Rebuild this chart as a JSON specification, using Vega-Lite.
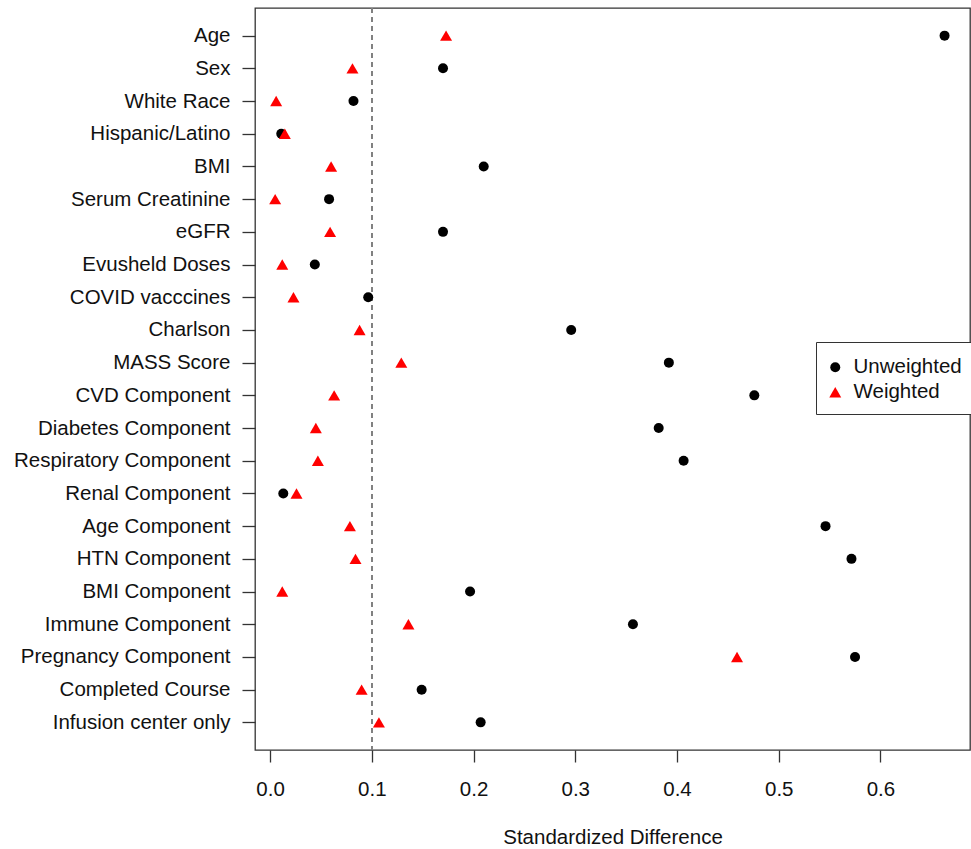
{
  "$schema": "https://vega.github.io/schema/vega-lite/v6.json",
  "width": 715,
  "height": 742,
  "autosize": {"type": "none"},
  "padding": {"left": 255, "top": 8, "right": 1, "bottom": 99},
  "background": "white",
  "config": {
    "view": {"stroke": "#333333", "strokeWidth": 1.3},
    "font": "Liberation Sans",
    "axis": {"grid": false, "domain": false, "tickColor": "#333333", "tickWidth": 1.3, "labelFont": "Liberation Sans", "titleFont": "Liberation Sans", "labelColor": "#111111", "titleColor": "#111111"}
  },
  "data": {
    "values": [
      {"variable": "Age", "type": "Unweighted", "value": 0.663},
      {"variable": "Sex", "type": "Unweighted", "value": 0.170},
      {"variable": "White Race", "type": "Unweighted", "value": 0.082},
      {"variable": "Hispanic/Latino", "type": "Unweighted", "value": 0.011},
      {"variable": "BMI", "type": "Unweighted", "value": 0.210},
      {"variable": "Serum Creatinine", "type": "Unweighted", "value": 0.058},
      {"variable": "eGFR", "type": "Unweighted", "value": 0.170},
      {"variable": "Evusheld Doses", "type": "Unweighted", "value": 0.044},
      {"variable": "COVID vacccines", "type": "Unweighted", "value": 0.0965},
      {"variable": "Charlson", "type": "Unweighted", "value": 0.296},
      {"variable": "MASS Score", "type": "Unweighted", "value": 0.392},
      {"variable": "CVD Component", "type": "Unweighted", "value": 0.476},
      {"variable": "Diabetes Component", "type": "Unweighted", "value": 0.382},
      {"variable": "Respiratory Component", "type": "Unweighted", "value": 0.4065},
      {"variable": "Renal Component", "type": "Unweighted", "value": 0.013},
      {"variable": "Age Component", "type": "Unweighted", "value": 0.546},
      {"variable": "HTN Component", "type": "Unweighted", "value": 0.5715},
      {"variable": "BMI Component", "type": "Unweighted", "value": 0.1966},
      {"variable": "Immune Component", "type": "Unweighted", "value": 0.3567},
      {"variable": "Pregnancy Component", "type": "Unweighted", "value": 0.575},
      {"variable": "Completed Course", "type": "Unweighted", "value": 0.149},
      {"variable": "Infusion center only", "type": "Unweighted", "value": 0.207},
      {"variable": "Age", "type": "Weighted", "value": 0.173},
      {"variable": "Sex", "type": "Weighted", "value": 0.081},
      {"variable": "White Race", "type": "Weighted", "value": 0.006},
      {"variable": "Hispanic/Latino", "type": "Weighted", "value": 0.0145},
      {"variable": "BMI", "type": "Weighted", "value": 0.060},
      {"variable": "Serum Creatinine", "type": "Weighted", "value": 0.005},
      {"variable": "eGFR", "type": "Weighted", "value": 0.059},
      {"variable": "Evusheld Doses", "type": "Weighted", "value": 0.012},
      {"variable": "COVID vacccines", "type": "Weighted", "value": 0.023},
      {"variable": "Charlson", "type": "Weighted", "value": 0.088},
      {"variable": "MASS Score", "type": "Weighted", "value": 0.129},
      {"variable": "CVD Component", "type": "Weighted", "value": 0.063},
      {"variable": "Diabetes Component", "type": "Weighted", "value": 0.045},
      {"variable": "Respiratory Component", "type": "Weighted", "value": 0.047},
      {"variable": "Renal Component", "type": "Weighted", "value": 0.026},
      {"variable": "Age Component", "type": "Weighted", "value": 0.0785},
      {"variable": "HTN Component", "type": "Weighted", "value": 0.084},
      {"variable": "BMI Component", "type": "Weighted", "value": 0.012},
      {"variable": "Immune Component", "type": "Weighted", "value": 0.136},
      {"variable": "Pregnancy Component", "type": "Weighted", "value": 0.459},
      {"variable": "Completed Course", "type": "Weighted", "value": 0.090},
      {"variable": "Infusion center only", "type": "Weighted", "value": 0.107}
    ]
  },
  "layer": [
    {
      "mark": {"type": "rule", "color": "#808080", "strokeDash": [5, 4], "strokeWidth": 1.3},
      "encoding": {"x": {"datum": 0.1, "type": "quantitative"}}
    },
    {
      "mark": {"type": "point", "filled": true, "opacity": 1, "strokeWidth": 0},
      "encoding": {
        "x": {
          "field": "value", "type": "quantitative",
          "scale": {"domain": [-0.0148, 0.688], "nice": false, "zero": false},
          "axis": {
            "values": [0, 0.1, 0.2, 0.3, 0.4, 0.5, 0.6], "format": ".1f",
            "tickSize": 12, "labelPadding": 17, "labelFontSize": 20.5,
            "title": "Standardized Difference", "titleFontSize": 20.5, "titleFontWeight": "normal",
            "titleBaseline": "alphabetic", "titleY": 93
          }
        },
        "y": {
          "field": "variable", "type": "nominal", "sort": null,
          "scale": {"type": "point", "padding": 0.845},
          "axis": {"title": null, "tickSize": 13, "labelPadding": 12, "labelFontSize": 20.5, "labelLimit": 400}
        },
        "color": {
          "field": "type", "type": "nominal",
          "scale": {"domain": ["Unweighted", "Weighted"], "range": ["#000000", "#ff0000"]},
          "legend": {
            "title": " ", "titleFontSize": 1, "titlePadding": 3,
            "orient": "none", "legendX": 561, "legendY": 334,
            "strokeColor": "#333333", "padding": 9, "fillColor": "white",
            "labelFontSize": 20.5, "labelOffset": 8, "rowPadding": 0, "clipHeight": 24.5, "labelColor": "#111111",
            "encode": {"legend": {"update": {"strokeWidth": {"value": 1.3}}}}
          }
        },
        "shape": {
          "field": "type", "type": "nominal",
          "scale": {"domain": ["Unweighted", "Weighted"], "range": ["circle", "triangle-up"]}
        },
        "size": {
          "field": "type", "type": "nominal",
          "scale": {"domain": ["Unweighted", "Weighted"], "range": [100, 144]}
        }
      }
    }
  ]
}
